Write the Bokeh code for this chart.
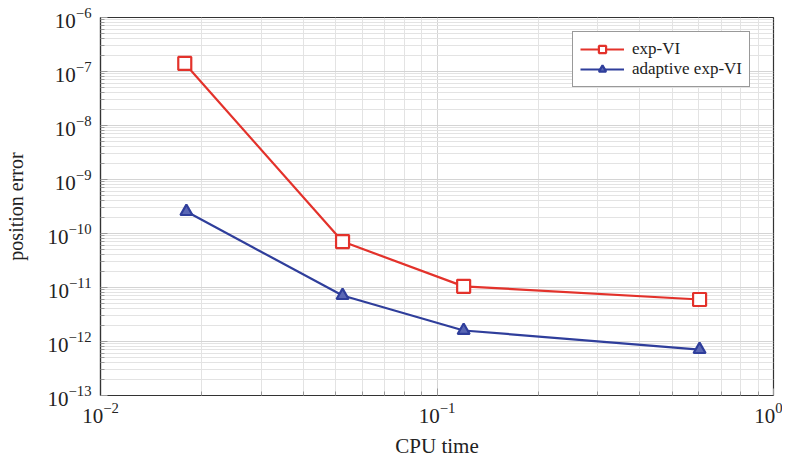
from bokeh.plotting import figure
from bokeh.models import Range1d, FixedTicker, LogTickFormatter
from bokeh.embed import file_html
from bokeh.resources import INLINE

cpu_time = [0.0178, 0.0524, 0.120, 0.603]
exp_vi = [1.41e-7, 7.1e-11, 1.05e-11, 6.0e-12]
cpu_time_adaptive = [0.0180, 0.0524, 0.120, 0.603]
adaptive_exp_vi = [2.55e-10, 7.1e-12, 1.6e-12, 7.1e-13]

x_exponents = [-2, -1, 0]
y_exponents = [-13, -12, -11, -10, -9, -8, -7, -6]

x_major = [10.0 ** e for e in x_exponents]
y_major = [10.0 ** e for e in y_exponents]
x_minor = [m * 10.0 ** e for e in x_exponents[:-1] for m in range(2, 10)]
y_minor = [m * 10.0 ** e for e in y_exponents[:-1] for m in range(2, 10)]

FONT = "Liberation Serif"
RED = "#e3322b"
BLUE = "#2f3e9b"

p = figure(width=782, height=449, x_axis_type="log", y_axis_type="log",
           x_range=Range1d(x_major[0], x_major[-1]), y_range=Range1d(y_major[0], y_major[-1]),
           output_backend="svg", toolbar_location=None,
           min_border_left=100, min_border_top=17, min_border_right=9, min_border_bottom=54)
p.frame_width = 673
p.frame_height = 378

p.outline_line_color = "#333333"
p.outline_line_width = 1.2

p.xaxis.ticker = FixedTicker(ticks=x_major, minor_ticks=x_minor)
p.yaxis.ticker = FixedTicker(ticks=y_major, minor_ticks=y_minor)
p.xaxis.formatter = LogTickFormatter()
p.yaxis.formatter = LogTickFormatter()

for g in (p.xgrid[0], p.ygrid[0]):
    g.grid_line_color = "#d4d4d4"
    g.grid_line_width = 1
    g.minor_grid_line_color = "#e3e3e3"
    g.minor_grid_line_width = 1

for ax in (p.xaxis[0], p.yaxis[0]):
    ax.axis_line_color = "#333333"
    ax.axis_line_width = 1.2
    ax.major_tick_in = 7
    ax.major_tick_out = 0
    ax.minor_tick_in = 4
    ax.minor_tick_out = 0
    ax.major_tick_line_color = "#9a9a9a"
    ax.minor_tick_line_color = "#9a9a9a"
    ax.major_label_text_font = FONT
    ax.major_label_text_font_size = "21px"
    ax.major_label_text_color = "#222222"
    ax.axis_label_text_font = FONT
    ax.axis_label_text_font_style = "normal"
    ax.axis_label_text_color = "#222222"

p.xaxis.axis_label = "CPU time"
p.yaxis.axis_label = "position error"
p.xaxis.axis_label_text_font_size = "21px"
p.yaxis.axis_label_text_font_size = "20px"
p.xaxis.major_label_standoff = 7
p.yaxis.major_label_standoff = 9
p.xaxis.axis_label_standoff = 8
p.yaxis.axis_label_standoff = 18

p.line(cpu_time, exp_vi, color=RED, line_width=2.2, legend_label="exp-VI")
p.scatter(cpu_time, exp_vi, marker="square", size=13, line_color=RED,
          fill_color="white", line_width=2.2, legend_label="exp-VI")

p.line(cpu_time_adaptive, adaptive_exp_vi, color=BLUE, line_width=2.2, legend_label="adaptive exp-VI")
p.scatter(cpu_time_adaptive, adaptive_exp_vi, marker="triangle", size=12, line_color=BLUE,
          fill_color="#5a67b5", line_width=2.2, legend_label="adaptive exp-VI")

lg = p.legend[0]
lg.location = (472, 308)
lg.label_text_font = FONT
lg.label_text_font_size = "17px"
lg.label_text_color = "#222222"
lg.border_line_color = "#333333"
lg.border_line_width = 1
lg.background_fill_alpha = 1
lg.glyph_width = 44
lg.glyph_height = 18
lg.label_standoff = 8
lg.padding = 7
lg.spacing = 0
lg.margin = 0

out = file_html(p, INLINE)
open("out.html", "w").write(out)
